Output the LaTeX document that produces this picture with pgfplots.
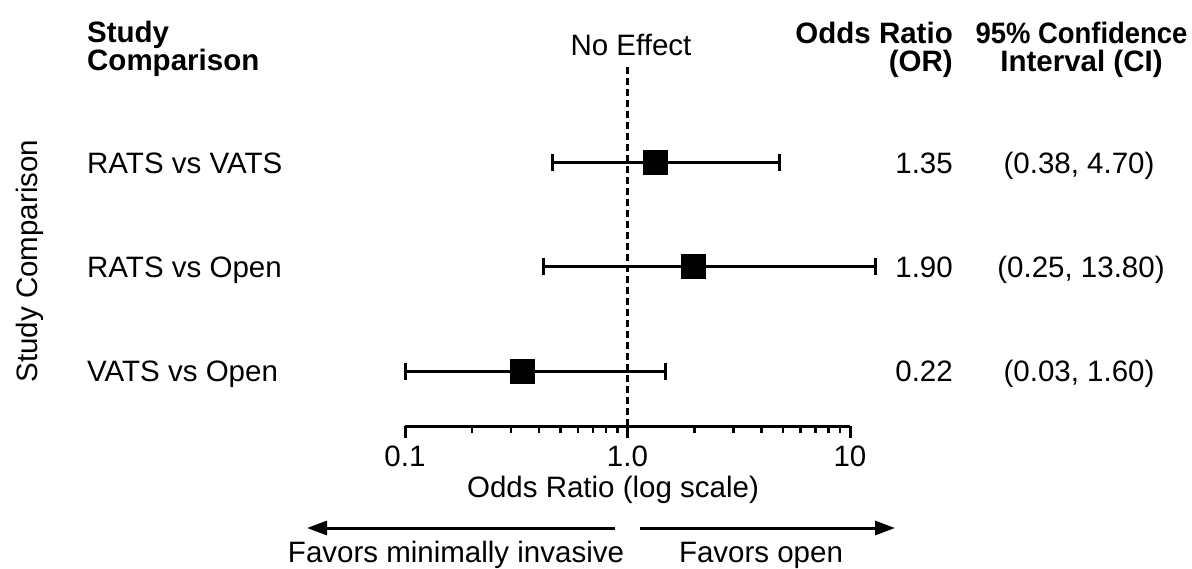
\documentclass[border=0pt]{standalone}
\usepackage{pgfplots}
\pgfplotsset{compat=1.18}
\usepackage{fontspec}
\setmainfont{Liberation Sans}
\usetikzlibrary{arrows.meta}
\newcommand{\F}{\fontsize{29.5bp}{29.5bp}\selectfont}
\begin{document}
\F
\begin{tikzpicture}[every node/.append style={font=\F, inner sep=0pt}]
\useasboundingbox (0,0) rectangle (1192bp,-569bp);
\begin{axis}[
  at={(405bp,-426bp)}, anchor=south west,
  scale only axis, width=445bp, height=356bp,
  xmode=log, xmin=0.1, xmax=10, ymin=0.4712, ymax=3.894,
  axis x line*=bottom, axis y line=none,
  clip=false,
  xtick={0.1,1,10}, xticklabels={0.1,1.0,10},
  minor xtick={0.2,0.3,0.4,0.5,0.6,0.7,0.8,0.9,2,3,4,5,6,7,8,9},
  tick align=outside,
  major tick length=12bp, minor tick length=7bp,
  major tick style={line width=3bp, black},
  minor tick style={line width=2.5bp, black},
  axis line style={line width=3bp, black},
  xticklabel style={font=\F, anchor=base, yshift=-28bp},
  xlabel={Odds Ratio (log scale)},
  every axis x label/.style={at={(axis description cs:0.4674,0)}, anchor=base, yshift=-71bp, font=\F},
]
% no-effect line
\addplot[black, line width=2.5bp, dash pattern=on 7bp off 4bp] coordinates {(1,0.4712) (1,3.95)};
% confidence intervals
\addplot[black, line width=3bp, mark=|, mark size=8.5bp, mark options={line width=3bp, solid}] coordinates {(0.459,3) (4.82,3)};
\addplot[black, line width=3bp, mark=|, mark size=8.5bp, mark options={line width=3bp, solid}] coordinates {(0.42,2) (13.0,2)};
\addplot[black, line width=3bp, mark=|, mark size=8.5bp, mark options={line width=3bp, solid}] coordinates {(0.101,1) (1.48,1)};
% point estimates
\addplot[only marks, mark=square*, mark size=12bp, mark options={fill=black, draw=black, line width=0pt}] coordinates {(1.33,3) (1.97,2) (0.337,1)};
\end{axis}
% headers
\node[anchor=base west, font=\F\bfseries] at (87bp,-42bp) {Study};
\node[anchor=base west, font=\F\bfseries] at (87bp,-70.5bp) {Comparison};
\node[anchor=base] at (631bp,-55bp) {No Effect};
\node[anchor=base east, font=\F\bfseries] at (953bp,-43.3bp) {Odds Ratio};
\node[anchor=base east, font=\F\bfseries] at (953bp,-71.7bp) {(OR)};
\node[anchor=base, font=\F\bfseries] at (1081.5bp,-43.3bp) {\scalebox{0.93}[1]{95\% Confidence}};
\node[anchor=base, font=\F\bfseries] at (1081.5bp,-71.7bp) {Interval (CI)};
% rotated axis title
\node[anchor=base, rotate=90] at (37.5bp,-261bp) {Study Comparison};
% rows
\node[anchor=base west] at (87bp,-173.3bp) {RATS vs VATS};
\node[anchor=base west] at (87bp,-277.3bp) {RATS vs Open};
\node[anchor=base west] at (87bp,-381.3bp) {VATS vs Open};
\node[anchor=base east] at (953bp,-173.3bp) {1.35};
\node[anchor=base east] at (953bp,-277.3bp) {1.90};
\node[anchor=base east] at (953bp,-381.3bp) {0.22};
\node[anchor=base] at (1079bp,-173.3bp) {(0.38, 4.70)};
\node[anchor=base] at (1081bp,-277.3bp) {(0.25, 13.80)};
\node[anchor=base] at (1079bp,-381.3bp) {(0.03, 1.60)};
% direction arrows
\draw[line width=3bp, -{Triangle[length=20bp, width=14bp]}] (615bp,-528bp) -- (307bp,-528bp);
\draw[line width=3bp, -{Triangle[length=20bp, width=14bp]}] (640bp,-528bp) -- (895bp,-528bp);
\node[anchor=base] at (456bp,-562bp) {Favors minimally invasive};
\node[anchor=base] at (761bp,-562bp) {Favors open};
\end{tikzpicture}
\end{document}
